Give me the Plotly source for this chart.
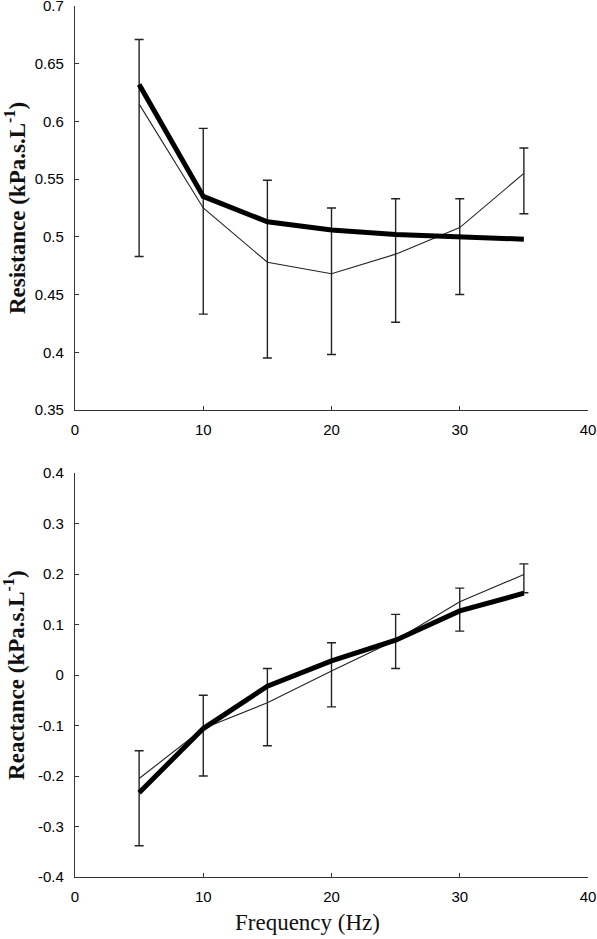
import plotly.graph_objects as go

# ---- data ----
freq = [5, 10, 15, 20, 25, 30, 35]

res_thick = [0.632, 0.535, 0.513, 0.506, 0.502, 0.500, 0.498]
res_thin = [0.615, 0.525, 0.478, 0.468, 0.485, 0.508, 0.555]
res_upper = [0.671, 0.594, 0.549, 0.525, 0.533, 0.533, 0.577]
res_lower = [0.483, 0.433, 0.395, 0.398, 0.426, 0.450, 0.520]

rea_thick = [-0.233, -0.106, -0.022, 0.028, 0.069, 0.127, 0.162]
rea_thin = [-0.205, -0.106, -0.055, 0.008, 0.069, 0.145, 0.199]
rea_upper = [-0.150, -0.040, 0.013, 0.064, 0.120, 0.172, 0.220]
rea_lower = [-0.338, -0.200, -0.140, -0.063, 0.013, 0.087, 0.163]

x_ticks = [0, 10, 20, 30, 40]
res_ticks = [0.35, 0.4, 0.45, 0.5, 0.55, 0.6, 0.65, 0.7]
res_ticktext = ["0.35", "0.4", "0.45", "0.5", "0.55", "0.6", "0.65", "0.7"]
rea_ticks = [-0.4, -0.3, -0.2, -0.1, 0, 0.1, 0.2, 0.3, 0.4]
rea_ticktext = ["-0.4", "-0.3", "-0.2", "-0.1", "0", "0.1", "0.2", "0.3", "0.4"]

res_title = "Resistance (kPa.s.L<sup>-1</sup>)"
rea_title = "Reactance (kPa.s.L<sup>-1</sup>)"
x_title = "Frequency (Hz)"

# ---- figure ----
fig = go.Figure()

def add_panel(thin, upper, lower, thick, xa, ya):
    fig.add_trace(go.Scatter(
        x=freq, y=thin, mode="lines", xaxis=xa, yaxis=ya,
        line=dict(color="#222222", width=1.1),
        error_y=dict(type="data", symmetric=False,
                     array=[u - y for u, y in zip(upper, thin)],
                     arrayminus=[y - l for y, l in zip(thin, lower)],
                     color="#222222", thickness=1.4, width=4.5),
        showlegend=False, hoverinfo="skip", cliponaxis=False))
    fig.add_trace(go.Scatter(
        x=freq, y=thick, mode="lines", xaxis=xa, yaxis=ya,
        line=dict(color="#000000", width=5),
        showlegend=False, hoverinfo="skip"))

add_panel(res_thin, res_upper, res_lower, res_thick, "x", "y")
add_panel(rea_thin, rea_upper, rea_lower, rea_thick, "x2", "y2")

tickfont = dict(family="Liberation Sans, Arial, sans-serif", size=15, color="#000000")
axis_common = dict(showline=True, linecolor="#333333", linewidth=1.2,
                   ticks="inside", ticklen=4, tickcolor="#333333", tickwidth=1.2,
                   showgrid=False, zeroline=False, tickfont=tickfont,
                   automargin=False, ticklabeloverflow="allow")

fig.update_layout(
    width=597, height=939,
    margin=dict(l=75, r=9, t=6, b=62),
    paper_bgcolor="white", plot_bgcolor="white",
    xaxis=dict(domain=[0, 1], anchor="y", range=[0, 40], tickvals=x_ticks,
               ticklabelstandoff=6, **axis_common),
    yaxis=dict(domain=[0.5362, 1], anchor="x", range=[0.35, 0.7],
               tickvals=res_ticks, ticktext=res_ticktext,
               ticklabelstandoff=7, **axis_common),
    xaxis2=dict(domain=[0, 1], anchor="y2", range=[0, 40], tickvals=x_ticks,
                ticklabelstandoff=6, **axis_common),
    yaxis2=dict(domain=[0, 0.4638], anchor="x2", range=[-0.4, 0.4],
                tickvals=rea_ticks, ticktext=rea_ticktext,
                ticklabelstandoff=7, **axis_common),
)

title_font = dict(family="Liberation Serif, Times New Roman, serif", size=23, color="#111111")
fig.add_annotation(text="<b>" + res_title + "</b>", xref="paper", yref="paper",
                   x=-0.117, y=0.768, textangle=-90, showarrow=False,
                   xanchor="center", yanchor="middle", font=title_font)
fig.add_annotation(text="<b>" + rea_title + "</b>", xref="paper", yref="paper",
                   x=-0.117, y=0.232, textangle=-90, showarrow=False,
                   xanchor="center", yanchor="middle", font=title_font)
fig.add_annotation(text=x_title, xref="paper", yref="paper",
                   x=0.454, y=-0.0528, showarrow=False,
                   xanchor="center", yanchor="middle", font=title_font)

fig.write_html("out.html", config={"displayModeBar": False},
               post_script="document.body.style.margin='0';document.body.style.overflow='hidden';")
